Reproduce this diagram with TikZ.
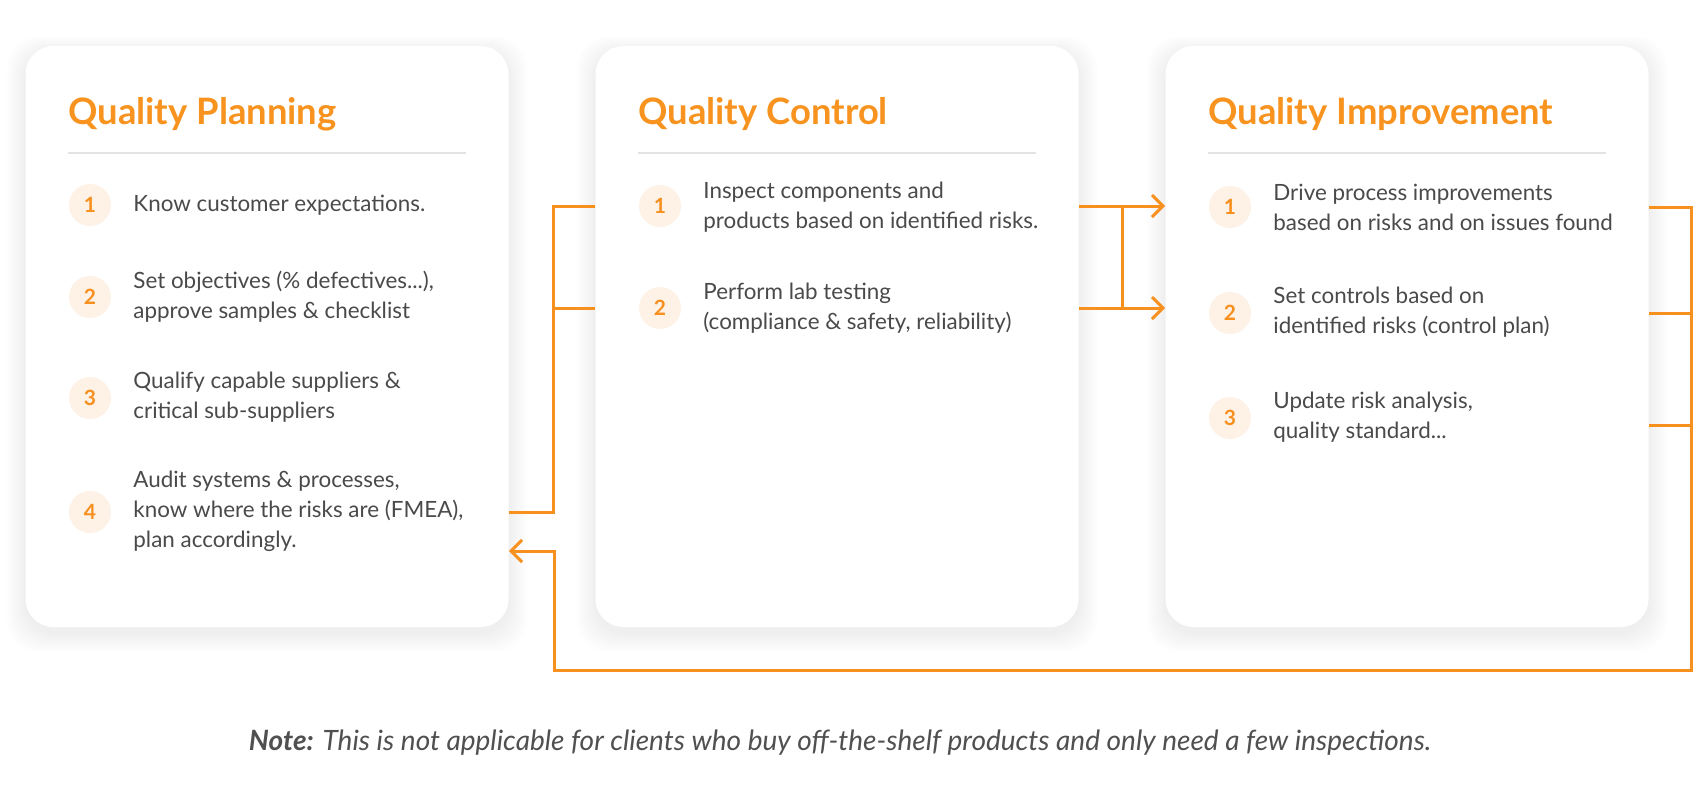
\documentclass[tikz,border=0pt]{standalone}
\usepackage{fontspec}
\setmainfont{Lato}
\usetikzlibrary{arrows.meta}
\definecolor{qorange}{HTML}{F7901E}
\definecolor{qtitle}{HTML}{F7931E}
\definecolor{qpeach}{HTML}{FEF1E6}
\definecolor{qtext}{HTML}{4A4A4A}
\definecolor{qline}{HTML}{E3E3E3}
\definecolor{qnote}{HTML}{505050}
\begin{document}
\begin{tikzpicture}[x=0.5pt,y=-0.5pt,
  card/.style={fill=white, rounded corners=14pt, minimum width=241.5pt, minimum height=290.5pt, inner sep=0pt},
  ctitle/.style={anchor=base west, inner sep=0pt, text=qtitle, font=\bfseries\fontsize{18.2}{22}\selectfont},
  divider/.style={draw=qline, line width=1pt},
  num/.style={circle, fill=qpeach, minimum size=21pt, inner sep=0pt, text=qorange, font=\bfseries\fontsize{10.5}{12}\selectfont},
  itemtext/.style={anchor=west, inner sep=0pt, align=left, text=qtext, font=\fontsize{11.2}{15}\selectfont},
  conn/.style={draw=qorange, line width=1.5pt},
  arr/.style={conn, -{Straight Barb[length=5.5pt, width=11pt, line width=1.5pt]}}
]
\useasboundingbox (0,0) rectangle (1700,809);
\fill[white] (0,0) rectangle (1700,809);

% shadows
\foreach \cx in {267,837,1407}{
  \foreach \i in {1,...,16}{
    \fill[black, opacity=0.005, rounded corners=16pt] (\cx-241.5-\i*1.2, 52-\i) rectangle (\cx+241.5+\i*1.2, 633+\i*1.2);
  }
}

% cards
\node[card] (c1) at (267,336.5) {};
\node[card] (c2) at (837,336.5) {};
\node[card] (c3) at (1407,336.5) {};

% titles and dividers
\node[ctitle] (h1) at (68,124) {Quality Planning};
\node[ctitle] (h2) at (638,124) {Quality Control};
\node[ctitle] (h3) at (1208,124) {Quality Improvement};
\draw[divider] (68,153) -- (466,153);
\draw[divider] (638,153) -- (1036,153);
\draw[divider] (1208,153) -- (1606,153);

% card 1 items
\node[num] (n11) at (90,205) {1};
\node[itemtext] (t11) at (133,205) {Know customer expectations.};
\node[num] (n12) at (90,297) {2};
\node[itemtext] (t12) at (133,297) {Set objectives (\% defectives...),\\approve samples \& checklist};
\node[num] (n13) at (90,398) {3};
\node[itemtext] (t13) at (133,397) {Qualify capable suppliers \&\\critical sub-suppliers};
\node[num] (n14) at (90,512) {4};
\node[itemtext] (t14) at (133,511) {Audit systems \& processes,\\know where the risks are (FMEA),\\plan accordingly.};

% card 2 items
\node[num] (n21) at (660,206) {1};
\node[itemtext] (t21) at (703,207) {Inspect components and\\products based on identified risks.};
\node[num] (n22) at (660,308) {2};
\node[itemtext] (t22) at (703,308) {Perform lab testing\\(compliance \& safety, reliability)};

% card 3 items
\node[num] (n31) at (1230,207) {1};
\node[itemtext] (t31) at (1273,207) {Drive process improvements\\based on risks and on issues found};
\node[num] (n32) at (1230,313) {2};
\node[itemtext] (t32) at (1273,312) {Set controls based on\\identified risks (control plan)};
\node[num] (n33) at (1230,418) {3};
\node[itemtext] (t33) at (1273,417) {Update risk analysis,\\quality standard...};

% note
\node[inner sep=0pt, text=qnote, font=\itshape\fontsize{14}{16}\selectfont] (note) at (840,743) {\textbf{Note:} This is not applicable for clients who buy off-the-shelf products and only need a few inspections.};

% connector helper coordinates
\coordinate (jl) at (553,0);
\coordinate (jm) at (1122,0);
\coordinate (jr) at (1691,0);
\coordinate (jb) at (554,0);
\coordinate (bot) at (0,670);
\coordinate (ret) at (0,551);
\coordinate (out3) at (0,425);

% card 1 -> card 2
\draw[conn] (c1.east |- n14) -| (jl |- n21) -- (c2.west |- n21);
\draw[conn] (jl |- n22) -- (c2.west |- n22);

% card 2 -> card 3
\draw[arr] (c2.east |- n21) -- (c3.west |- n21);
\draw[arr] (c2.east |- n22) -- (c3.west |- n22);
\draw[conn] (jm |- n21) -- (jm |- n22);

% card 3 -> card 1
\draw[conn] (c3.east |- n32) -- (jr |- n32);
\draw[conn] (c3.east |- out3) -- (jr |- out3);
\draw[arr] (c3.east |- n31) -| (jr |- bot) -| (jb |- ret) -- (c1.east |- ret);
\end{tikzpicture}
\end{document}
